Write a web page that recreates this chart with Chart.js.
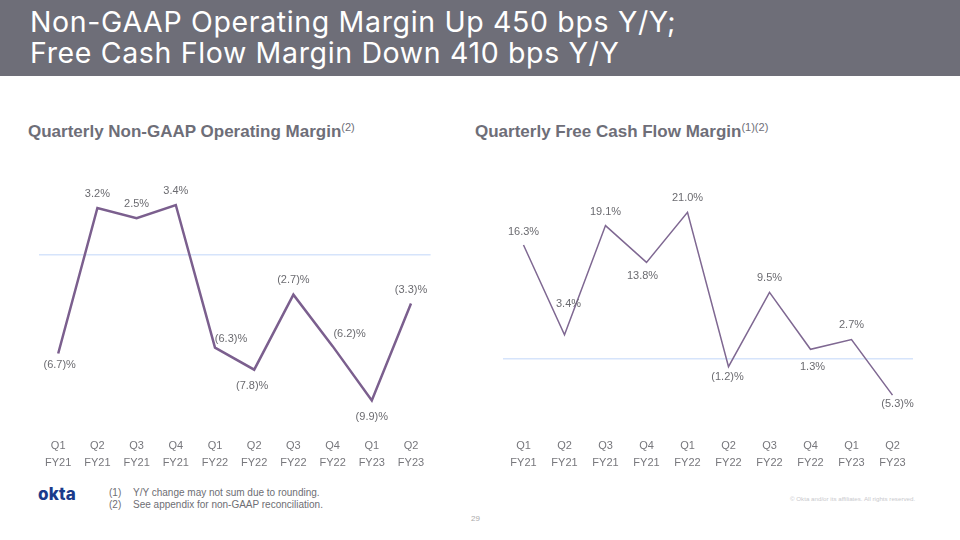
<!DOCTYPE html>
<html><head><meta charset="utf-8">
<script src="https://cdn.jsdelivr.net/npm/chart.js@4"></script>
<style>
html,body{margin:0;padding:0;background:#fff;}
body{width:960px;height:540px;position:relative;overflow:hidden;font-family:"Liberation Sans",Arial,sans-serif;}
#bar{position:absolute;left:0;top:0;width:960px;height:76px;background:#6e6e78;}
#bar div{position:absolute;left:30px;top:6px;color:#fff;font-family:Inter,"Liberation Sans",sans-serif;font-size:28.5px;line-height:31px;letter-spacing:0.65px;white-space:nowrap;}
.ct{position:absolute;top:123px;font-family:"Liberation Sans",Arial,sans-serif;font-weight:bold;font-size:17px;line-height:17px;color:#6e6e78;white-space:nowrap;}
.ct sup{font-size:11px;font-weight:normal;vertical-align:top;position:relative;top:-4px;}
canvas{position:absolute;}
#logo{position:absolute;left:38px;top:484px;font-family:Inter,"Liberation Sans",sans-serif;font-weight:800;font-size:17px;line-height:20px;color:#1b3b8b;letter-spacing:0.2px;}
.fn{position:absolute;font-size:10px;line-height:12px;color:#6e6e74;white-space:nowrap;}
#copy{position:absolute;left:790px;top:495px;font-size:6.2px;color:#c9c9cd;white-space:nowrap;}
#page{position:absolute;left:471px;top:514px;font-size:8px;color:#aaaaaa;}
</style></head>
<body>
<div id="bar"><div>Non-GAAP Operating Margin Up 450 bps Y/Y;<br>Free Cash Flow Margin Down 410 bps Y/Y</div></div>
<div class="ct" style="left:28px">Quarterly Non-GAAP Operating Margin<sup>(2)</sup></div>
<div class="ct" style="left:475px">Quarterly Free Cash Flow Margin<sup>(1)(2)</sup></div>
<canvas id="c1" width="460" height="320" style="left:0;top:160px"></canvas>
<canvas id="c2" width="480" height="320" style="left:480px;top:160px"></canvas>
<div id="logo">okta</div>
<div class="fn" style="left:109px;top:487px">(1)</div>
<div class="fn" style="left:133px;top:487px">Y/Y change may not sum due to rounding.</div>
<div class="fn" style="left:109px;top:499px">(2)</div>
<div class="fn" style="left:133px;top:499px">See appendix for non-GAAP reconciliation.</div>
<div id="copy">© Okta and/or its affiliates. All rights reserved.</div>
<div id="page">29</div>
<script>
const quarters = ["Q1","Q2","Q3","Q4","Q1","Q2","Q3","Q4","Q1","Q2"];
const fiscalYears = ["FY21","FY21","FY21","FY21","FY22","FY22","FY22","FY22","FY23","FY23"];
const opMargin = [-6.7, 3.2, 2.5, 3.4, -6.3, -7.8, -2.7, -6.2, -9.9, -3.3];
const fcfMargin = [16.3, 3.4, 19.1, 13.8, 21.0, -1.2, 9.5, 1.3, 2.7, -5.3];

const labels = quarters.map((q, i) => [q, fiscalYears[i]]);
function fmt(v){ return v < 0 ? '(' + Math.abs(v).toFixed(1) + ')%' : v.toFixed(1) + '%'; }

const valueLabels = {
  id: 'valueLabels',
  afterDatasetsDraw(chart, args, opts){
    const ctx = chart.ctx;
    const meta = chart.getDatasetMeta(0);
    const data = chart.data.datasets[0].data;
    ctx.save();
    ctx.font = '11px "Liberation Sans", Arial, sans-serif';
    ctx.fillStyle = '#6b6b70';
    ctx.textAlign = 'center';
    ctx.textBaseline = 'middle';
    meta.data.forEach((pt, i) => {
      const off = opts.offsets[i];
      ctx.fillText(fmt(data[i]), pt.x + off[0], pt.y + off[1]);
    });
    ctx.restore();
  }
};

function makeChart(id, values, cfg){
  return new Chart(document.getElementById(id), {
    type: 'line',
    data: { labels: labels, datasets: [{ data: values, borderColor: cfg.color, borderWidth: cfg.width, pointRadius: 0, tension: 0, fill: false }] },
    options: {
      responsive: false, animation: false,
      layout: { padding: cfg.padding },
      plugins: { legend: { display: false }, tooltip: { enabled: false }, valueLabels: { offsets: cfg.offsets } },
      scales: {
        x: { offset: true, grid: { display: false, drawTicks: false }, border: { display: false },
             ticks: { color: '#77777c', padding: 6, maxRotation: 0, autoSkip: false,
                      font: { size: 11, family: '"Liberation Sans", Arial, sans-serif', lineHeight: 1.55 } },
             afterFit(s){ s.height = 40; } },
        y: { min: cfg.min, max: cfg.max, ticks: { display: false, stepSize: 0.5 }, border: { display: false },
             grid: { drawTicks: false, lineWidth: 1.5, color: c => c.tick.value === 0 ? '#d6e4fb' : 'rgba(0,0,0,0)' },
             afterFit(s){ s.width = 0; } }
      }
    },
    plugins: [valueLabels]
  });
}

makeChart('c1', opMargin, {
  color: '#7b5f8e', width: 2.5, min: -12, max: 5,
  padding: { left: 38.6, right: 29.4, top: 21.5, bottom: 8.6 },
  offsets: [[1.5,11.5],[0,-14],[0,-14.5],[0,-14],[16,-9],[-2,16],[0,-15],[17,-12.5],[0,16],[0,-14]]
});
makeChart('c2', fcfMargin, {
  color: '#7f6892', width: 1.5, min: -10.5, max: 25,
  padding: { left: 23, right: 47, top: 24.6, bottom: 8.7 },
  offsets: [[0,-13],[4,-31],[0,-14],[-4,14],[0,-14],[-1,10],[0,-14],[2,18],[0,-14.5],[5,9]]
});
</script>
</body></html>
